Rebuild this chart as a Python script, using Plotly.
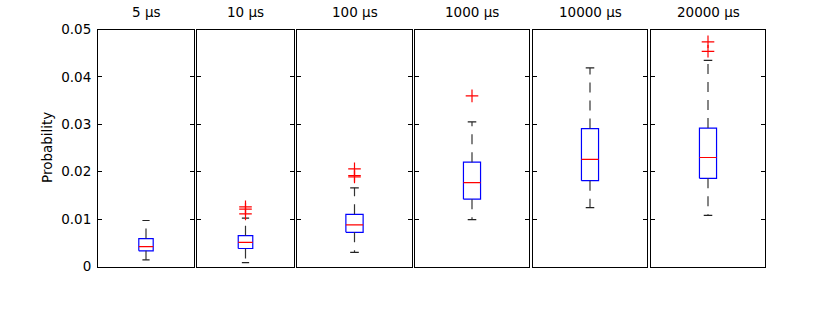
import plotly.graph_objects as go

# dane
titles = ['5 µs', '10 µs', '100 µs', '1000 µs', '10000 µs', '20000 µs']
q1 = [0.0033, 0.0038, 0.0072, 0.0142, 0.0181, 0.0186]
median = [0.0042, 0.0051, 0.0088, 0.0177, 0.0226, 0.0230]
q3 = [0.0059, 0.0065, 0.0110, 0.0220, 0.0291, 0.0292]
lower = [0.0014, 0.0008, 0.0030, 0.0099, 0.0124, 0.0108]
upper = [0.0097, 0.0102, 0.0166, 0.0305, 0.0419, 0.0435]
fliers = [
    [],
    [0.0126, 0.0121, 0.0111],
    [0.0206, 0.0192, 0.0189],
    [0.0360],
    [],
    [0.0474, 0.0454],
]
y_ticks = [0, 0.01, 0.02, 0.03, 0.04, 0.05]
y_ticklabels = ['0', '0.01', '0.02', '0.03', '0.04', '0.05']

# polozenie paneli w pikselach (lewa, prawa krawedz)
W, H = 830, 323
panels_px = [(98, 194), (197, 294), (297, 412), (415, 529), (533, 647), (651, 765)]
top_px, bottom_px = 29.5, 266.5

blue = '#0000ff'
red = '#ff0000'
font = dict(family='DejaVu Sans', size=13.5, color='black')

fig = go.Figure()

hw = 0.075   # polowa szerokosci pudelka
cw = 0.0375  # polowa szerokosci "wasow"

for i in range(6):
    xa = 'x' if i == 0 else f'x{i+1}'
    ya = 'y' if i == 0 else f'y{i+1}'
    c = 1
    # pudelko
    fig.add_trace(go.Scatter(x=[c-hw, c+hw, c+hw, c-hw, c-hw], y=[q1[i], q1[i], q3[i], q3[i], q1[i]],
                             mode='lines', line=dict(color=blue, width=1.2), xaxis=xa, yaxis=ya))
    # mediana
    fig.add_trace(go.Scatter(x=[c-hw, c+hw], y=[median[i], median[i]],
                             mode='lines', line=dict(color=red, width=1.2), xaxis=xa, yaxis=ya))
    # wasy
    for a, b in [(q3[i], upper[i]), (q1[i], lower[i])]:
        fig.add_trace(go.Scatter(x=[c, c], y=[a, b], mode='lines',
                                 line=dict(color='#333333', width=1.2, dash='10px,8px'), xaxis=xa, yaxis=ya))
        fig.add_trace(go.Scatter(x=[c-cw, c+cw], y=[b, b], mode='lines',
                                 line=dict(color='#222222', width=1.2), xaxis=xa, yaxis=ya))
    # wartosci odstajace
    if fliers[i]:
        fig.add_trace(go.Scatter(x=[c]*len(fliers[i]), y=fliers[i], mode='markers',
                                 marker=dict(symbol='cross-thin', size=9, line=dict(color=red, width=1.2)),
                                 xaxis=xa, yaxis=ya))

    l, r = panels_px[i]
    xdom = [l / W, r / W]
    ydom = [1 - bottom_px / H, 1 - top_px / H]
    fig.update_layout({
        ('xaxis' if i == 0 else f'xaxis{i+1}'): dict(
            domain=xdom, range=[0.5, 1.5], showgrid=False, zeroline=False, showticklabels=False,
            ticks='', showline=True, linecolor='black', linewidth=1, mirror=True, anchor=ya,
            automargin=False),
        ('yaxis' if i == 0 else f'yaxis{i+1}'): dict(
            domain=ydom, range=[0, 0.05], showgrid=False, zeroline=False,
            tickvals=y_ticks, ticktext=y_ticklabels, showticklabels=(i == 0),
            ticks='inside', ticklen=4, tickcolor='black', tickwidth=1,
            showline=True, linecolor='black', linewidth=1, mirror='ticks', anchor=xa,
            tickfont=font, ticklabelstandoff=3, automargin=False),
    })
    fig.add_annotation(text=titles[i], x=(xdom[0] + xdom[1]) / 2, y=1 - 12 / H, xref='paper', yref='paper',
                       showarrow=False, font=font, xanchor='center', yanchor='middle')

fig.add_annotation(text='Probability', textangle=-90, x=47 / W, y=1 - (top_px + bottom_px) / 2 / H,
                   xref='paper', yref='paper', showarrow=False, font=font,
                   xanchor='center', yanchor='middle')

fig.update_layout(
    width=W, height=H, margin=dict(l=0, r=0, t=0, b=0, autoexpand=False),
    plot_bgcolor='white', paper_bgcolor='white', showlegend=False,
)

# bez domyslnego marginesu strony i bez paska narzedzi
fig.write_html('out.html', config={'displayModeBar': False},
               post_script="document.body.style.margin='0';")
